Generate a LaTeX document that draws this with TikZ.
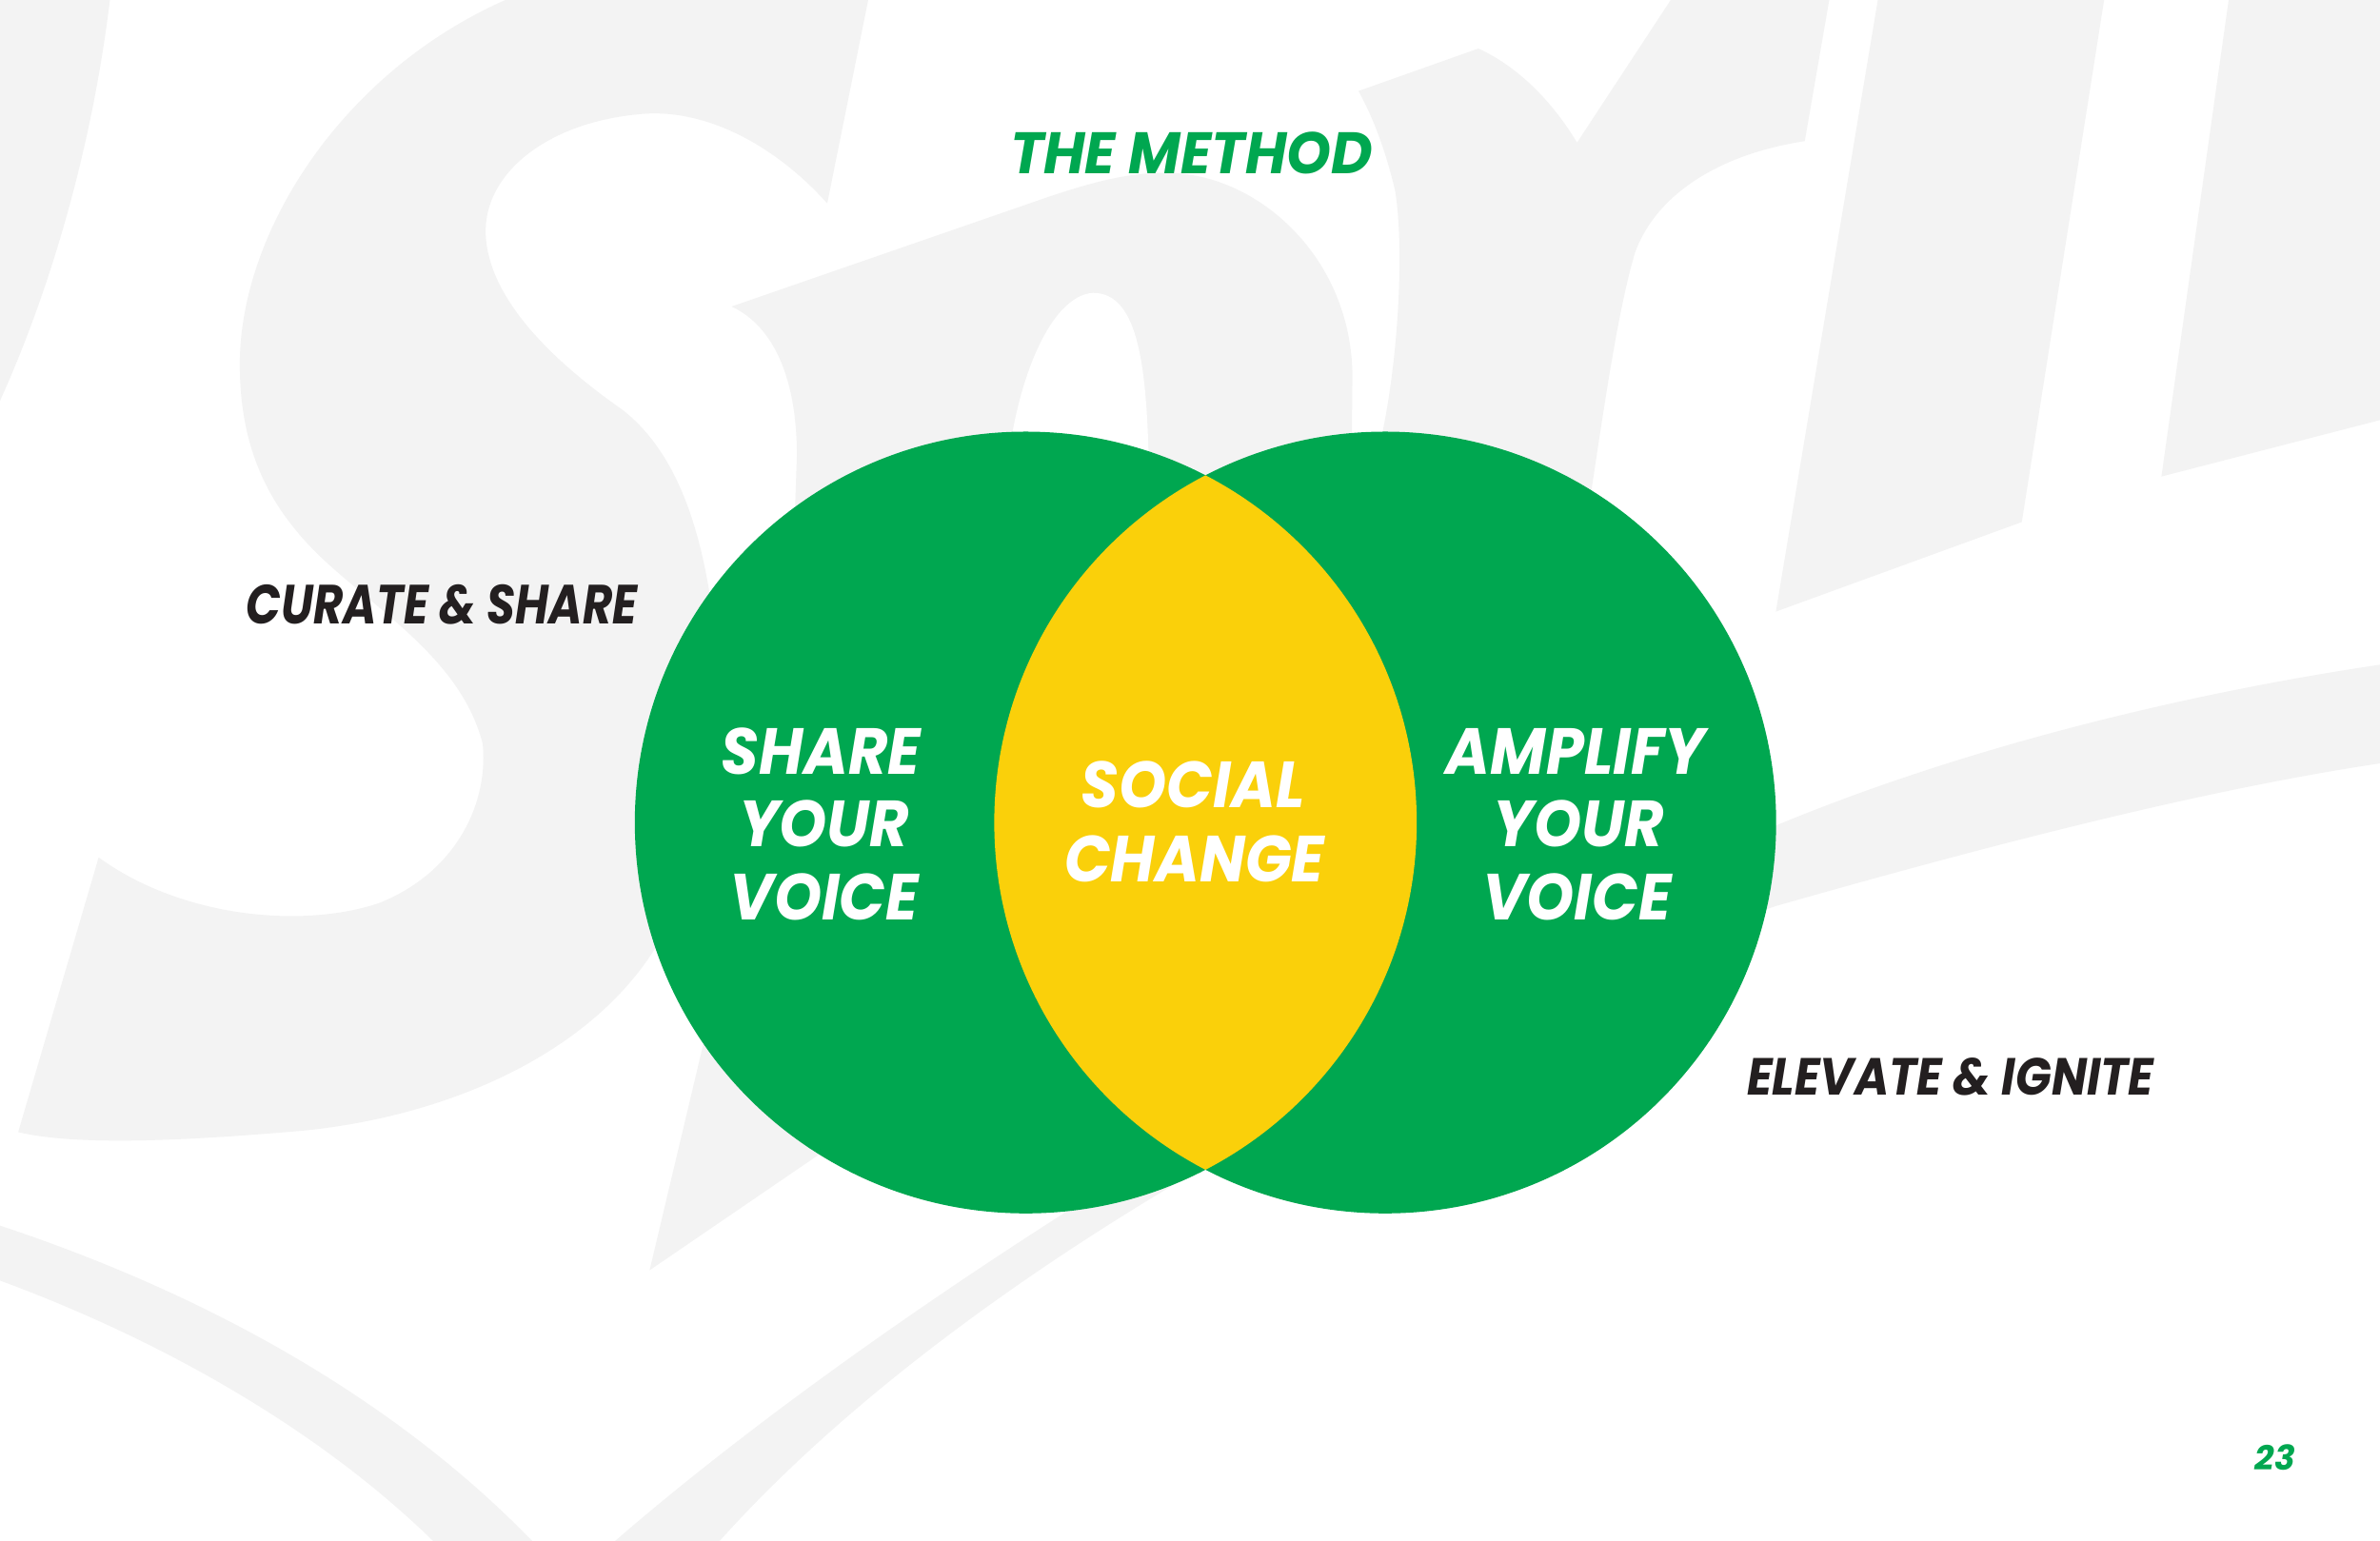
\documentclass[tikz,border=0pt]{standalone}
\usepackage{fontspec}
\newfontfamily\popA{Poppins}[FakeStretch=0.93]
\newfontfamily\popT{Poppins}[FakeStretch=0.97]
\newfontfamily\popC{Poppins}[FakeStretch=0.83]
\newfontfamily\popE{Poppins}[FakeStretch=0.90]
\newfontfamily\popP{Poppins}
\definecolor{vgreen}{RGB}{0,167,80}
\definecolor{vyellow}{RGB}{250,208,10}
\definecolor{vdark}{RGB}{35,31,32}
\definecolor{bggray}{RGB}{243,243,243}
\tikzset{
  lbl/.style={inner sep=0pt, anchor=base},
  inl/.style={lbl, text=white, font=\popA\bfseries\itshape\fontsize{19.5}{20}\selectfont},
  titlelbl/.style={lbl, text=vgreen, font=\popT\bfseries\itshape\fontsize{17.5}{18}\selectfont},
  sidelbl/.style={lbl, text=vdark, font=\popC\bfseries\itshape\fontsize{16.5}{17}\selectfont},
  sidelbltwo/.style={lbl, text=vdark, font=\popE\bfseries\itshape\fontsize{15.6}{16}\selectfont},
  pglbl/.style={lbl, text=vgreen, font=\popP\bfseries\itshape\fontsize{10.2}{11}\selectfont},
  bg/.style={fill=bggray, draw=none},
  venn/.style={circle, inner sep=0pt, minimum size=8.214cm, fill=vgreen, draw=none}
}
\begin{document}
\begin{tikzpicture}[x=0.015944cm, y=-0.015944cm]
\useasboundingbox (0,0) rectangle (1568,1015);
\fill[white] (0,0) rectangle (1568,1015);
% background watermark
\begin{scope}
\clip (0,0) rectangle (1568,1015);
\fill[bg] (-5,-5) -- (73,-5) .. controls (62,90) and (35,190) .. (-5,275) -- cycle;
\fill[bg] (345,-5) -- (573,-5) -- (545,134)
  .. controls (510,95) and (465,72) .. (424,75)
  .. controls (360,80) and (318,115) .. (320,155)
  .. controls (322,195) and (360,235) .. (410,270)
  .. controls (455,305) and (475,380) .. (475,502)
  -- (470,600) -- (440,610)
  .. controls (400,690) and (300,735) .. (200,745)
  .. controls (120,752) and (50,755) .. (12,746)
  -- (65,565)
  .. controls (120,605) and (200,612) .. (250,595)
  .. controls (300,575) and (322,530) .. (318,490)
  .. controls (305,440) and (260,410) .. (220,375)
  .. controls (180,340) and (158,300) .. (158,240)
  .. controls (158,150) and (230,40) .. (345,-5) -- cycle;
\fill[bg] (470,660) -- (428,837) -- (548,755) -- cycle;
% o letter
\fill[bg] (482,202) -- (690,130)
  .. controls (720,120) and (745,113) .. (772,114)
  .. controls (830,116) and (890,170) .. (891,247)
  -- (889,450) -- (520,450) -- (525,300)
  .. controls (525,250) and (510,215) .. (482,202) -- cycle;
% r letter
\fill[bg] (895,60) -- (974,32)
  .. controls (1000,44) and (1022,66) .. (1039,94)
  -- (1104,-5) -- (1206,-5) -- (1189,93)
  .. controls (1130,102) and (1090,130) .. (1077,167)
  .. controls (1066,205) and (1058,260) .. (1048,326)
  -- (1045,450) -- (912,450) -- (911,284)
  .. controls (922,230) and (925,160) .. (919,125)
  .. controls (913,100) and (905,78) .. (895,60) -- cycle;
\fill[white] (662,330) .. controls (665,260) and (690,195) .. (720,193)
  .. controls (750,193) and (757,240) .. (757,330) -- cycle;
\fill[bg] (1238,-5) -- (1387,-5) -- (1332,344) -- (1170,403) -- cycle;
\fill[bg] (1469,-5) -- (1575,-5) -- (1575,275) -- (1424,314) -- cycle;
\fill[bg] (-5,806) .. controls (130,850) and (260,920) .. (355,1020) -- (290,1020)
  .. controls (210,940) and (100,880) .. (-5,842) -- cycle;
\fill[bg] (400,1020) .. controls (560,880) and (850,690) .. (1170,544)
  .. controls (1300,490) and (1450,455) .. (1575,437) -- (1575,502)
  .. controls (1450,520) and (1300,560) .. (1170,597)
  .. controls (900,690) and (620,850) .. (470,1020) -- cycle;
\end{scope}
% Venn circles
\node[venn] (L) at (675.8,542) {};
\node[venn] (R) at (912.6,542) {};
\begin{scope}
\clip (L.center) circle[radius=4.107cm];
\fill[vyellow] (R.center) circle[radius=4.107cm];
\end{scope}
% texts
\node[inl] (s1) at (541,510) {SHARE};
\node[inl] (s2) at (543,558) {YOUR};
\node[inl] (s3) at (543,606) {VOICE};
\node[inl] (c1) at (786,532) {SOCIAL};
\node[inl] (c2) at (787,581) {CHANGE};
\node[inl] (a1) at (1038,510) {AMPLIFY};
\node[inl] (a2) at (1040,558) {YOUR};
\node[inl] (a3) at (1039,606) {VOICE};
\node[titlelbl] (t) at (785,114.6) {THE METHOD};
\node[sidelbl] (cs) at (291,411) {CURATE \& SHARE};
\node[sidelbltwo] (ei) at (1285,721.7) {ELEVATE \& IGNITE};
\node[pglbl] (pn) at (1499,969) {23};
\end{tikzpicture}
\end{document}
